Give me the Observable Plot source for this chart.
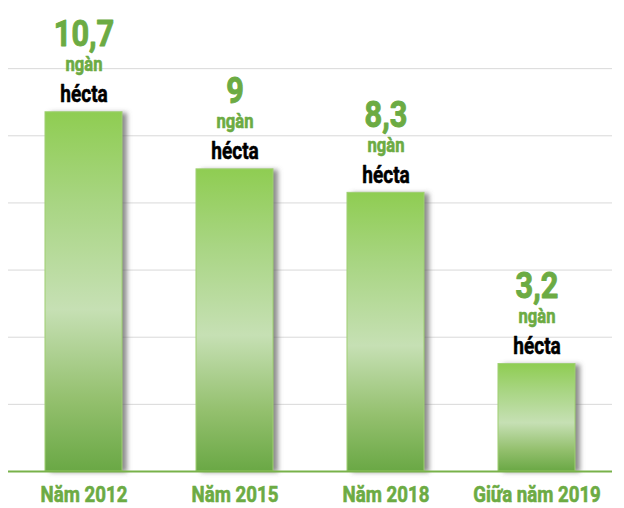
<!DOCTYPE html>
<html>
<head>
<meta charset="utf-8">
<script src="https://cdn.jsdelivr.net/npm/d3@7"></script>
<script src="https://cdn.jsdelivr.net/npm/@observablehq/plot@0.6"></script>
<style>
  html, body { margin: 0; padding: 0; background: #fff; }
  #chart svg { display: block; }
</style>
</head>
<body>
<div id="chart"></div>
<script>
const categories = ["Năm 2012", "Năm 2015", "Năm 2018", "Giữa năm 2019"];
const values = [10.7, 9, 8.3, 3.2];
const valueLabels = ["10,7", "9", "8,3", "3,2"];
const unitLine1 = "ngàn";
const unitLine2 = "hécta";
const gridTicks = [2, 4, 6, 8, 10, 12];

const data = categories.map((c, i) => ({cat: c, value: values[i], label: valueLabels[i]}));

const FONT = "Roboto, 'DejaVu Sans', sans-serif";
const GREEN_TEXT = "#6cab43";

const defs = () => {
  const g = d3.create("svg:defs");
  const grad = g.append("linearGradient").attr("id", "barGrad").attr("x1", 0).attr("y1", 0).attr("x2", 0).attr("y2", 1);
  [[0, "#8fcd52"], [0.25, "#a8d582"], [0.55, "#c6e0b4"], [0.8, "#94c06e"], [1, "#6aa845"]]
    .forEach(([o, c]) => grad.append("stop").attr("offset", o).attr("stop-color", c));
  const f = g.append("filter").attr("id", "shadow").attr("x", "-30%").attr("y", "-5%").attr("width", "180%").attr("height", "115%");
  f.append("feGaussianBlur").attr("stdDeviation", 2.5);
  return g.node();
};

const chart = Plot.plot({
  width: 624,
  height: 508,
  marginLeft: 8,
  marginRight: 12,
  marginTop: 1,
  marginBottom: 37,
  style: {fontFamily: FONT, background: "#fff"},
  x: {domain: categories, paddingInner: 0.49, paddingOuter: 0.245, axis: null},
  y: {domain: [0, 14], axis: null},
  marks: [
    defs,
    Plot.ruleY(gridTicks, {stroke: "#d9d9d9", strokeWidth: 1}),
    Plot.barY(data, {x: "cat", y: "value", fill: "#666", fillOpacity: 0.75, dx: 5, dy: 1}),
    Plot.barY(data, {x: "cat", y: "value", fill: "url(#barGrad)", stroke: "#9fd072", strokeWidth: 1}),
    Plot.ruleY([0], {stroke: "#78b24a", strokeWidth: 2}),
    Plot.text(data, {x: "cat", y: "value", text: "label", lineAnchor: "bottom", dy: -66, fontSize: 37, fontWeight: "bold", fill: GREEN_TEXT, stroke: GREEN_TEXT, strokeWidth: 1}),
    Plot.text(data, {x: "cat", y: "value", text: () => unitLine1, lineAnchor: "bottom", dy: -41, fontSize: 20, fontWeight: "bold", fill: GREEN_TEXT, stroke: GREEN_TEXT, strokeWidth: 0.6}),
    Plot.text(data, {x: "cat", y: "value", text: () => unitLine2, lineAnchor: "bottom", dy: -10, fontSize: 23, fontWeight: "bold", fill: "#000", stroke: "#000", strokeWidth: 0.5}),
    Plot.text(categories, {x: d => d, y: 0, text: d => d, lineAnchor: "bottom", dy: 30, fontSize: 22.5, fontWeight: "bold", fill: GREEN_TEXT, stroke: GREEN_TEXT, strokeWidth: 0.6})
  ]
});

const bars = chart.querySelectorAll('g[aria-label="bar"]');
if (bars.length) bars[0].setAttribute("filter", "url(#shadow)");
// condense label glyphs horizontally (the reference uses a condensed face)
chart.querySelectorAll('g[aria-label="text"] text').forEach(t => {
  const tr = t.getAttribute("transform") || "";
  t.setAttribute("transform", tr + " scale(0.83,1)");
});

document.getElementById("chart").appendChild(chart);
</script>
</body>
</html>
